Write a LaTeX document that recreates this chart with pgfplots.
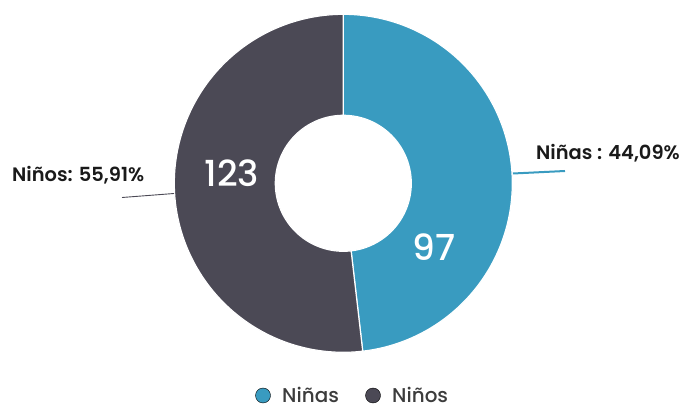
\documentclass[border=0pt]{standalone}
\usepackage{fontspec}
\setmainfont{Poppins}[BoldFont={Poppins SemiBold}]
\newfontfamily\medium{Poppins Medium}
\usepackage{pgfplots}
\pgfplotsset{compat=1.18}
\usepackage{pgfplotstable}
\usepgfplotslibrary{fillbetween}

\definecolor{ninas}{HTML}{399BC0}
\definecolor{ninos}{HTML}{4B4955}
\definecolor{txt}{HTML}{1A1A1A}

% value, share and slice sweep (deg, as drawn, clockwise from 12 o'clock)
\pgfplotstableread{
value pct sweep
97 44.09 173.4
123 55.91 186.6
}\donut

\begin{document}
\begin{tikzpicture}
\pgfplotstablegetelem{0}{sweep}\of\donut \let\sweepA\pgfplotsretval
\pgfplotstablegetelem{1}{sweep}\of\donut \let\sweepB\pgfplotsretval
\pgfmathsetmacro\aStart{90}
\pgfmathsetmacro\aEnd{90-\sweepA}
\pgfmathsetmacro\bEnd{\aEnd-\sweepB}
\def\cx{343.3}\def\cy{183.3}\def\ro{169}\def\ri{68}
\begin{axis}[
  width=683bp, height=405bp, scale only axis,
  xmin=0, xmax=683, ymin=0, ymax=405, y dir=reverse,
  hide axis, clip=false,
]
% Niñas slice
\addplot[name path=oa, draw=none, domain=\aStart:\aEnd, samples=150]
  ({\cx+\ro*cos(x)}, {\cy-\ro*sin(x)});
\addplot[name path=ia, draw=none, domain=\aStart:\aEnd, samples=100]
  ({\cx+\ri*cos(x)}, {\cy-\ri*sin(x)});
\addplot[fill=ninas, draw=white, line width=1.2bp] fill between[of=oa and ia];
% Niños slice
\addplot[name path=ob, draw=none, domain=\aEnd:\bEnd, samples=150]
  ({\cx+\ro*cos(x)}, {\cy-\ro*sin(x)});
\addplot[name path=ib, draw=none, domain=\aEnd:\bEnd, samples=100]
  ({\cx+\ri*cos(x)}, {\cy-\ri*sin(x)});
\addplot[fill=ninos, draw=white, line width=1.2bp] fill between[of=ob and ib];

% leader lines
\addplot[ninas, line width=2bp] coordinates {(513,173.5) (565,171)};
\addplot[ninos, line width=0.9bp] coordinates {(122,197.5) (174,193.5)};

% labels
\node[anchor=base east, font=\fontsize{19.5}{22}\selectfont\bfseries, text=txt, inner sep=0pt]
  at (axis cs:680,160) {Niñas : 44,09\%};
\node[anchor=base west, font=\fontsize{19.5}{22}\selectfont\bfseries, text=txt, inner sep=0pt]
  at (axis cs:12,181.5) {Niños: 55,91\%};
\node[font=\fontsize{36}{40}\selectfont\medium, text=white]
  at (axis cs:232,173) {123};
\node[font=\fontsize{36}{40}\selectfont\medium, text=white]
  at (axis cs:434,247) {97};

% legend
\addplot[only marks, mark=*, mark size=7.5bp, draw=none, fill=ninas] coordinates {(263,395.5)};
\addplot[only marks, mark=*, mark size=7.5bp, draw=none, fill=ninos] coordinates {(373,395.5)};
\node[overlay, anchor=base west, font=\fontsize{20}{22}\selectfont\medium, text=txt!85, inner sep=0pt]
  at (axis cs:282,402) {Niñas};
\node[overlay, anchor=base west, font=\fontsize{20}{22}\selectfont\medium, text=txt!85, inner sep=0pt]
  at (axis cs:392,402) {Niños};
\end{axis}
\path (current axis.south west) rectangle (current axis.north east);
\end{tikzpicture}
\end{document}
